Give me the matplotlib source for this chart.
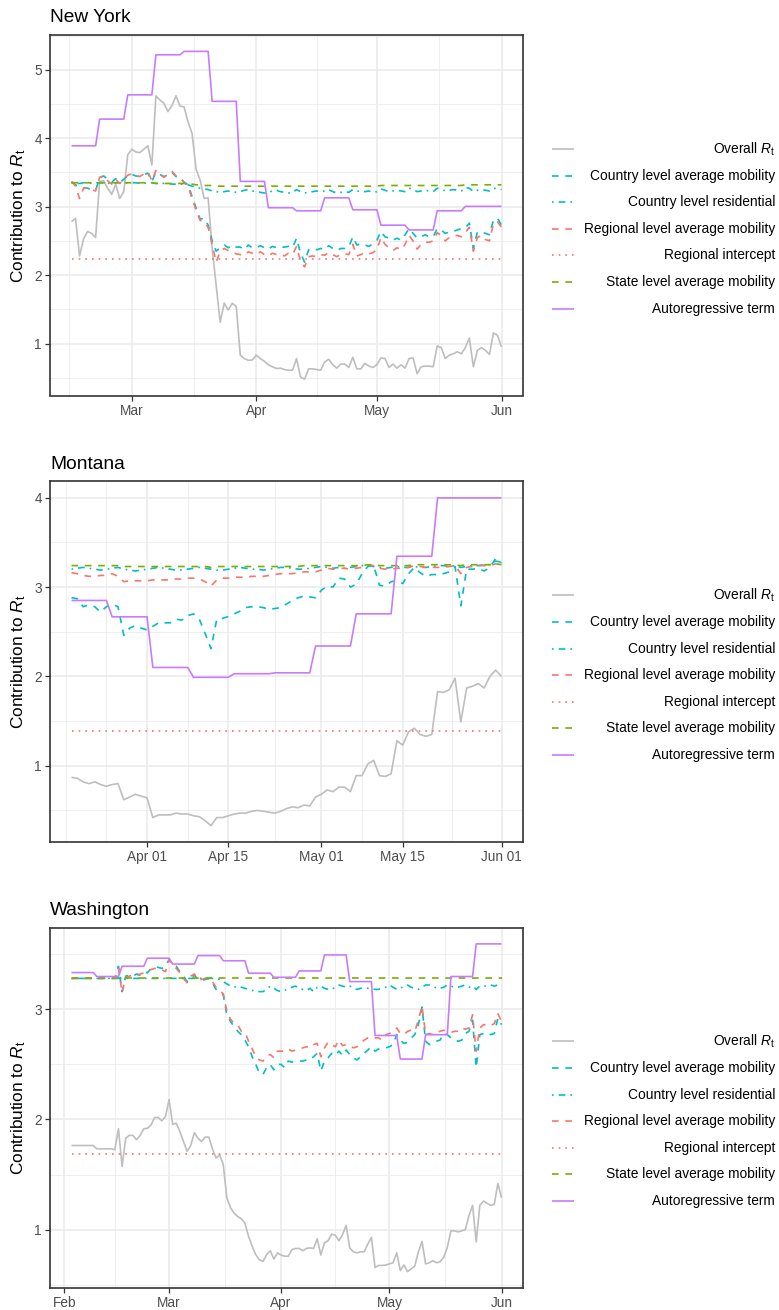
import numpy as np
import pandas as pd
import matplotlib
matplotlib.use("Agg")
import matplotlib.pyplot as plt
import matplotlib.dates as mdates
from matplotlib.lines import Line2D
from matplotlib.ticker import MultipleLocator

plt.rcParams['font.family'] = ['Liberation Sans', 'DejaVu Sans']
plt.rcParams['mathtext.fontset'] = 'custom'
plt.rcParams['mathtext.rm'] = 'Liberation Sans'
plt.rcParams['mathtext.it'] = 'Liberation Sans:italic'

# ---------------- data ----------------
SERIES_LABELS = [r'Overall $\mathit{R}_{\mathrm{t}}$', 'Country level average mobility',
                 'Country level residential', 'Regional level average mobility',
                 'Regional intercept', 'State level average mobility', 'Autoregressive term']

# New York: daily from 2020-02-15
ny_start = '2020-02-15'
ny_overall = [2.78, 2.83, 2.28, 2.53, 2.64, 2.61, 2.55,
              3.37, 3.38, 3.27, 3.18, 3.33, 3.12, 3.22,
              3.76, 3.84, 3.80, 3.79, 3.84, 3.89, 3.61,
              4.62, 4.56, 4.51, 4.39, 4.48, 4.62, 4.47,
              4.46, 4.24, 4.07, 3.55, 3.39, 3.12, 3.13,
              2.39, 1.85, 1.31, 1.59, 1.49, 1.59, 1.54,
              0.83, 0.78, 0.755, 0.76, 0.83, 0.78, 0.74,
              0.69, 0.66, 0.635, 0.64, 0.62, 0.61, 0.61,
              0.78, 0.51, 0.48, 0.63, 0.63, 0.62, 0.61,
              0.73, 0.77, 0.69, 0.64, 0.70, 0.70, 0.65,
              0.80, 0.63, 0.63, 0.71, 0.67, 0.65, 0.69,
              0.79, 0.78, 0.65, 0.70, 0.64, 0.69, 0.64,
              0.78, 0.79, 0.56, 0.66, 0.67, 0.67, 0.66,
              0.965, 0.94, 0.78, 0.83, 0.85, 0.88, 0.85,
              0.94, 1.08, 0.66, 0.90, 0.94, 0.90, 0.84,
              1.155, 1.12, 0.95]
ny_country_avg = [3.36, 3.32, 3.29, 3.28, 3.27, 3.25, 3.24,
                  3.42, 3.45, 3.40, 3.36, 3.41, 3.35, 3.40,
                  3.45, 3.47, 3.45, 3.44, 3.47, 3.49, 3.37,
                  3.50, 3.47, 3.44, 3.46, 3.50, 3.44, 3.43,
                  3.36, 3.32, 3.15, 2.98, 2.82, 2.83, 2.73,
                  2.50, 2.35, 2.40, 2.44, 2.40, 2.44, 2.41,
                  2.41, 2.37, 2.44, 2.40, 2.40, 2.43, 2.40,
                  2.38, 2.42, 2.40, 2.41, 2.41, 2.42, 2.40,
                  2.54, 2.32, 2.19, 2.37, 2.39, 2.37, 2.39,
                  2.37, 2.43, 2.39, 2.36, 2.39, 2.39, 2.41,
                  2.56, 2.44, 2.46, 2.44, 2.42, 2.46, 2.51,
                  2.64, 2.56, 2.54, 2.51, 2.54, 2.51, 2.59,
                  2.68, 2.61, 2.54, 2.56, 2.59, 2.56, 2.56,
                  2.68, 2.66, 2.61, 2.63, 2.64, 2.66, 2.68,
                  2.69, 2.76, 2.39, 2.63, 2.63, 2.61, 2.59,
                  2.81, 2.83, 2.73]
ny_residential = [3.35, 3.34, 3.34, 3.35, 3.35, 3.34, 3.35,
                  3.35, 3.35, 3.34, 3.35, 3.35, 3.35, 3.34,
                  3.35, 3.35, 3.35, 3.34, 3.34, 3.35, 3.35,
                  3.34, 3.34, 3.34, 3.34, 3.33, 3.33, 3.33,
                  3.33, 3.32, 3.30, 3.29, 3.27, 3.26, 3.25,
                  3.23, 3.22, 3.21, 3.22, 3.23, 3.22, 3.21,
                  3.22, 3.24, 3.25, 3.23, 3.22, 3.21, 3.20,
                  3.21, 3.23, 3.24, 3.22, 3.21, 3.20, 3.21,
                  3.25, 3.22, 3.20, 3.21, 3.22, 3.23, 3.22,
                  3.23, 3.25, 3.22, 3.20, 3.21, 3.22, 3.21,
                  3.25, 3.23, 3.22, 3.22, 3.23, 3.21, 3.22,
                  3.26, 3.24, 3.22, 3.23, 3.24, 3.23, 3.22,
                  3.27, 3.25, 3.22, 3.23, 3.24, 3.23, 3.22,
                  3.27, 3.26, 3.23, 3.24, 3.25, 3.24, 3.23,
                  3.28, 3.27, 3.22, 3.24, 3.25, 3.24, 3.23,
                  3.27, 3.26, 3.25]
ny_regional_avg = [3.37, 3.30, 3.12, 3.27, 3.27, 3.25, 3.23,
                   3.43, 3.45, 3.38, 3.33, 3.40, 3.34, 3.40,
                   3.46, 3.48, 3.46, 3.44, 3.48, 3.51, 3.38,
                   3.53, 3.47, 3.43, 3.47, 3.52, 3.45, 3.42,
                   3.35, 3.30, 3.12, 2.95, 2.80, 2.78, 2.70,
                   2.45, 2.19, 2.35, 2.39, 2.36, 2.34, 2.31,
                   2.30, 2.29, 2.34, 2.32, 2.30, 2.34, 2.30,
                   2.28, 2.32, 2.30, 2.30, 2.28, 2.32, 2.30,
                   2.42, 2.20, 2.12, 2.27, 2.28, 2.27, 2.30,
                   2.29, 2.33, 2.30, 2.27, 2.30, 2.31, 2.30,
                   2.45, 2.28, 2.30, 2.33, 2.31, 2.33, 2.37,
                   2.55, 2.45, 2.40, 2.36, 2.40, 2.37, 2.45,
                   2.58, 2.50, 2.38, 2.45, 2.48, 2.48, 2.50,
                   2.62, 2.58, 2.50, 2.55, 2.57, 2.58, 2.56,
                   2.62, 2.70, 2.35, 2.55, 2.58, 2.52, 2.50,
                   2.75, 2.78, 2.70]
ny_intercept = 2.23
ny_state = [3.35, 3.35, 3.35, 3.35, 3.35, 3.35, 3.35,
            3.35, 3.35, 3.35, 3.35, 3.35, 3.35, 3.35,
            3.35, 3.35, 3.35, 3.35, 3.35, 3.35, 3.35,
            3.34, 3.34, 3.34, 3.34, 3.34, 3.34, 3.34,
            3.34, 3.33, 3.33, 3.32, 3.32, 3.31, 3.31,
            3.31, 3.30, 3.30, 3.30, 3.30, 3.30, 3.30,
            3.30, 3.30, 3.30, 3.30, 3.30, 3.30, 3.30,
            3.30, 3.30, 3.30, 3.30, 3.30, 3.30, 3.30,
            3.30, 3.30, 3.30, 3.30, 3.30, 3.30, 3.30,
            3.30, 3.30, 3.30, 3.30, 3.30, 3.30, 3.30,
            3.30, 3.30, 3.30, 3.30, 3.30, 3.30, 3.30,
            3.31, 3.31, 3.31, 3.31, 3.31, 3.31, 3.31,
            3.31, 3.31, 3.31, 3.31, 3.31, 3.31, 3.31,
            3.31, 3.31, 3.31, 3.31, 3.31, 3.31, 3.31,
            3.32, 3.32, 3.32, 3.32, 3.32, 3.32, 3.32,
            3.32, 3.32, 3.32]
ny_autoreg = [3.89, 3.89, 3.89, 3.89, 3.89, 3.89, 3.89,
              4.28, 4.28, 4.28, 4.28, 4.28, 4.28, 4.28,
              4.635, 4.635, 4.635, 4.635, 4.635, 4.635, 4.635,
              5.22, 5.22, 5.22, 5.22, 5.22, 5.22, 5.22,
              5.27, 5.27, 5.27, 5.27, 5.27, 5.27, 5.27,
              4.54, 4.54, 4.54, 4.54, 4.54, 4.54, 4.54,
              3.37, 3.37, 3.37, 3.37, 3.37, 3.37, 3.37,
              2.985, 2.985, 2.985, 2.985, 2.985, 2.985, 2.985,
              2.94, 2.94, 2.94, 2.94, 2.94, 2.94, 2.94,
              3.13, 3.13, 3.13, 3.13, 3.13, 3.13, 3.13,
              2.955, 2.955, 2.955, 2.955, 2.955, 2.955, 2.955,
              2.73, 2.73, 2.73, 2.73, 2.73, 2.73, 2.73,
              2.66, 2.66, 2.66, 2.66, 2.66, 2.66, 2.66,
              2.94, 2.94, 2.94, 2.94, 2.94, 2.94, 2.94,
              3.005, 3.005, 3.005, 3.005, 3.005, 3.005, 3.005,
              3.005, 3.005, 3.005]
ny_major = ['2020-03-01', '2020-04-01', '2020-05-01', '2020-06-01']
ny_major_labels = ['Mar', 'Apr', 'May', 'Jun']
ny_minor = ['2020-02-14 12:00', '2020-03-16 12:00', '2020-04-16 00:00', '2020-05-16 12:00']

# Montana: daily from 2020-03-19
mt_start = '2020-03-19'
mt_overall = [0.87, 0.86, 0.82, 0.80, 0.82, 0.79, 0.77,
              0.79, 0.80, 0.62, 0.65, 0.68, 0.66, 0.64,
              0.42, 0.45, 0.45, 0.45, 0.47, 0.46, 0.46,
              0.44, 0.43, 0.385, 0.33, 0.42, 0.42, 0.44,
              0.46, 0.47, 0.47, 0.49, 0.50, 0.49, 0.48,
              0.47, 0.49, 0.52, 0.54, 0.53, 0.56, 0.55,
              0.65, 0.68, 0.73, 0.71, 0.76, 0.76, 0.71,
              0.89, 0.89, 1.02, 1.06, 0.89, 0.88, 0.91,
              1.28, 1.23, 1.38, 1.42, 1.35, 1.33, 1.35,
              1.83, 1.82, 1.85, 1.98, 1.49, 1.87, 1.89,
              1.92, 1.87, 2.00, 2.07, 2.00]
mt_country_avg = [2.88, 2.87, 2.78, 2.80, 2.78, 2.72, 2.78,
                  2.81, 2.78, 2.46, 2.54, 2.57, 2.54, 2.52,
                  2.56, 2.60, 2.60, 2.60, 2.64, 2.63, 2.68,
                  2.70, 2.64, 2.48, 2.31, 2.64, 2.65, 2.67,
                  2.70, 2.73, 2.77, 2.78, 2.78, 2.77, 2.75,
                  2.76, 2.77, 2.81, 2.85, 2.88, 2.90, 2.89,
                  2.88, 2.965, 3.01, 3.00, 3.10, 3.09, 3.00,
                  3.03, 3.15, 3.23, 3.24, 3.02, 3.01, 3.06,
                  3.07, 3.04, 3.15, 3.22, 3.16, 3.12, 3.14,
                  3.14, 3.15, 3.17, 3.23, 2.79, 3.20, 3.20,
                  3.21, 3.18, 3.22, 3.32, 3.27]
mt_residential = [3.20, 3.21, 3.22, 3.21, 3.20, 3.19, 3.20,
                  3.21, 3.22, 3.20, 3.19, 3.18, 3.19, 3.20,
                  3.21, 3.22, 3.21, 3.20, 3.19, 3.19, 3.20,
                  3.21, 3.22, 3.21, 3.20, 3.19, 3.19, 3.20,
                  3.21, 3.22, 3.21, 3.20, 3.20, 3.19, 3.20,
                  3.21, 3.22, 3.22, 3.21, 3.20, 3.20, 3.21,
                  3.22, 3.23, 3.22, 3.21, 3.22, 3.21, 3.22,
                  3.23, 3.24, 3.25, 3.23, 3.22, 3.21, 3.22,
                  3.23, 3.22, 3.22, 3.23, 3.22, 3.22, 3.23,
                  3.24, 3.24, 3.23, 3.24, 3.22, 3.23, 3.24,
                  3.24, 3.25, 3.25, 3.29, 3.28]
mt_regional_avg = [3.16, 3.15, 3.13, 3.12, 3.12, 3.13, 3.13,
                   3.15, 3.12, 3.06, 3.07, 3.07, 3.07, 3.07,
                   3.08, 3.08, 3.08, 3.08, 3.09, 3.09, 3.10,
                   3.10, 3.09, 3.06, 3.01, 3.08, 3.10, 3.10,
                   3.11, 3.11, 3.11, 3.12, 3.12, 3.12, 3.13,
                   3.14, 3.15, 3.15, 3.15, 3.16, 3.17, 3.17,
                   3.17, 3.19, 3.21, 3.20, 3.21, 3.21, 3.20,
                   3.21, 3.22, 3.25, 3.24, 3.21, 3.20, 3.20,
                   3.21, 3.21, 3.22, 3.24, 3.23, 3.22, 3.22,
                   3.22, 3.22, 3.23, 3.24, 3.15, 3.22, 3.23,
                   3.24, 3.24, 3.24, 3.26, 3.25]
mt_intercept = 1.39
mt_state = [3.24, 3.24, 3.24, 3.24, 3.24, 3.24, 3.24,
            3.24, 3.24, 3.23, 3.23, 3.23, 3.23, 3.23,
            3.23, 3.23, 3.23, 3.23, 3.23, 3.23, 3.23,
            3.23, 3.23, 3.23, 3.22, 3.23, 3.23, 3.23,
            3.23, 3.23, 3.23, 3.23, 3.23, 3.23, 3.23,
            3.23, 3.23, 3.23, 3.23, 3.23, 3.24, 3.24,
            3.24, 3.24, 3.24, 3.24, 3.24, 3.24, 3.24,
            3.24, 3.24, 3.25, 3.25, 3.24, 3.24, 3.24,
            3.24, 3.24, 3.24, 3.25, 3.25, 3.25, 3.25,
            3.25, 3.25, 3.25, 3.25, 3.24, 3.25, 3.25,
            3.25, 3.25, 3.25, 3.26, 3.25]
mt_autoreg = [2.85, 2.85, 2.85, 2.85, 2.85, 2.85, 2.85,
              2.667, 2.667, 2.667, 2.667, 2.667, 2.667, 2.667,
              2.10, 2.10, 2.10, 2.10, 2.10, 2.10, 2.10,
              1.99, 1.99, 1.99, 1.99, 1.99, 1.99, 1.99,
              2.03, 2.03, 2.03, 2.03, 2.03, 2.03, 2.03,
              2.04, 2.04, 2.04, 2.04, 2.04, 2.04, 2.04,
              2.34, 2.34, 2.34, 2.34, 2.34, 2.34, 2.34,
              2.70, 2.70, 2.70, 2.70, 2.70, 2.70, 2.70,
              3.345, 3.345, 3.345, 3.345, 3.345, 3.345, 3.345,
              3.998, 3.998, 3.998, 3.998, 3.998, 3.998, 3.998,
              3.998, 3.998, 3.998, 3.998, 3.998]
mt_major = ['2020-04-01', '2020-04-15', '2020-05-01', '2020-05-15', '2020-06-01']
mt_major_labels = ['Apr 01', 'Apr 15', 'May 01', 'May 15', 'Jun 01']
mt_minor = ['2020-03-18 00:00', '2020-03-25 00:00', '2020-04-08 00:00', '2020-04-23 00:00',
            '2020-05-08 00:00', '2020-05-23 12:00']

# Washington: daily from 2020-02-03
wa_start = '2020-02-03'
wa_overall = [1.764, 1.764, 1.764, 1.764, 1.764, 1.764, 1.764,
              1.734, 1.734, 1.734, 1.734, 1.734, 1.725, 1.916,
              1.574, 1.83, 1.856, 1.856, 1.817, 1.856, 1.916,
              1.92, 1.95, 2.018, 2.018, 1.988, 2.027, 2.18,
              1.957, 1.966, 1.89, 1.80, 1.71, 1.764, 1.88,
              1.83, 1.80, 1.84, 1.84, 1.734, 1.65, 1.68,
              1.59, 1.287, 1.20, 1.15, 1.12, 1.10, 1.06,
              0.94, 0.85, 0.773, 0.728, 0.713, 0.773, 0.81,
              0.734, 0.79, 0.77, 0.76, 0.76, 0.82, 0.83,
              0.83, 0.81, 0.83, 0.835, 0.83, 0.918, 0.77,
              0.88, 0.90, 0.96, 0.95, 0.90, 0.955, 1.04,
              0.835, 0.80, 0.79, 0.80, 0.80, 0.87, 0.93,
              0.658, 0.676, 0.676, 0.68, 0.69, 0.70, 0.79,
              0.63, 0.68, 0.62, 0.645, 0.67, 0.80, 0.894,
              0.69, 0.70, 0.72, 0.70, 0.71, 0.75, 0.84,
              0.99, 0.99, 0.98, 0.99, 1.00, 1.13, 1.22,
              0.89, 1.22, 1.26, 1.24, 1.22, 1.23, 1.42,
              1.29]
wa_country_avg = [3.28, 3.28, 3.28, 3.28, 3.28, 3.28, 3.28,
                  3.28, 3.28, 3.28, 3.28, 3.28, 3.28, 3.39,
                  3.16, 3.30, 3.31, 3.30, 3.32, 3.31, 3.34,
                  3.33, 3.37, 3.38, 3.38, 3.37, 3.39, 3.45,
                  3.41, 3.39, 3.34, 3.30, 3.25, 3.28, 3.31,
                  3.27, 3.26, 3.27, 3.28, 3.24, 3.18, 3.16,
                  3.13, 2.95, 2.89, 2.84, 2.80, 2.77, 2.72,
                  2.66, 2.57, 2.50, 2.42, 2.41, 2.47, 2.50,
                  2.45, 2.50, 2.50, 2.47, 2.53, 2.52, 2.53,
                  2.53, 2.53, 2.54, 2.54, 2.57, 2.60, 2.44,
                  2.53, 2.56, 2.60, 2.58, 2.62, 2.58, 2.63,
                  2.59, 2.56, 2.54, 2.57, 2.60, 2.63, 2.66,
                  2.62, 2.64, 2.64, 2.65, 2.66, 2.68, 2.77,
                  2.72, 2.69, 2.70, 2.74, 2.77, 2.86, 3.02,
                  2.71, 2.68, 2.69, 2.71, 2.72, 2.78, 2.77,
                  2.74, 2.72, 2.71, 2.72, 2.78, 2.80, 2.90,
                  2.47, 2.77, 2.78, 2.79, 2.77, 2.78, 2.92,
                  2.86]
wa_residential = [3.28, 3.28, 3.28, 3.28, 3.28, 3.28, 3.28,
                  3.28, 3.28, 3.28, 3.28, 3.28, 3.28, 3.28,
                  3.28, 3.28, 3.28, 3.28, 3.28, 3.28, 3.28,
                  3.28, 3.28, 3.28, 3.28, 3.28, 3.28, 3.28,
                  3.28, 3.28, 3.28, 3.28, 3.28, 3.28, 3.28,
                  3.28, 3.28, 3.28, 3.28, 3.28, 3.28, 3.27,
                  3.25, 3.23, 3.21, 3.20, 3.21, 3.20, 3.19,
                  3.18, 3.17, 3.17, 3.16, 3.16, 3.18, 3.21,
                  3.19, 3.17, 3.16, 3.17, 3.19, 3.20, 3.21,
                  3.19, 3.18, 3.17, 3.19, 3.16, 3.20, 3.21,
                  3.19, 3.18, 3.18, 3.20, 3.22, 3.21, 3.20,
                  3.21, 3.19, 3.18, 3.19, 3.19, 3.19, 3.19,
                  3.18, 3.18, 3.19, 3.20, 3.22, 3.20, 3.18,
                  3.19, 3.21, 3.22, 3.20, 3.19, 3.18, 3.20,
                  3.22, 3.22, 3.21, 3.19, 3.19, 3.20, 3.22,
                  3.21, 3.20, 3.20, 3.21, 3.22, 3.20, 3.21,
                  3.18, 3.21, 3.21, 3.21, 3.22, 3.21, 3.22,
                  3.22]
wa_regional_avg = [3.28, 3.28, 3.28, 3.28, 3.28, 3.28, 3.28,
                   3.28, 3.28, 3.28, 3.28, 3.28, 3.28, 3.37,
                   3.15, 3.29, 3.30, 3.31, 3.30, 3.32, 3.33,
                   3.35, 3.36, 3.37, 3.37, 3.36, 3.34, 3.45,
                   3.40, 3.37, 3.33, 3.28, 3.24, 3.30, 3.32,
                   3.27, 3.27, 3.28, 3.27, 3.25, 3.20, 3.17,
                   3.14, 2.98, 2.91, 2.87, 2.86, 2.80, 2.79,
                   2.71, 2.64, 2.57, 2.54, 2.53, 2.57, 2.59,
                   2.56, 2.62, 2.62, 2.62, 2.64, 2.62, 2.63,
                   2.64, 2.65, 2.66, 2.65, 2.68, 2.69, 2.57,
                   2.65, 2.70, 2.68, 2.66, 2.72, 2.67, 2.68,
                   2.67, 2.65, 2.66, 2.69, 2.72, 2.74, 2.75,
                   2.74, 2.74, 2.72, 2.77, 2.78, 2.80, 2.83,
                   2.78, 2.77, 2.80, 2.81, 2.80, 2.90, 3.03,
                   2.77, 2.78, 2.77, 2.79, 2.80, 2.81, 2.80,
                   2.79, 2.80, 2.80, 2.83, 2.82, 2.83, 2.95,
                   2.62, 2.83, 2.86, 2.86, 2.85, 2.87, 2.96,
                   2.89]
wa_intercept = 1.69
wa_state = [3.28, 3.28, 3.28, 3.28, 3.28, 3.28, 3.28,
            3.28, 3.28, 3.28, 3.28, 3.28, 3.28, 3.28,
            3.28, 3.28, 3.28, 3.28, 3.28, 3.28, 3.28,
            3.28, 3.28, 3.28, 3.28, 3.28, 3.28, 3.28,
            3.28, 3.28, 3.28, 3.28, 3.28, 3.28, 3.28,
            3.28, 3.28, 3.28, 3.28, 3.28, 3.28, 3.28,
            3.28, 3.28, 3.28, 3.28, 3.28, 3.28, 3.28,
            3.28, 3.28, 3.28, 3.28, 3.28, 3.28, 3.28,
            3.28, 3.28, 3.28, 3.28, 3.28, 3.28, 3.28,
            3.28, 3.28, 3.28, 3.28, 3.28, 3.28, 3.28,
            3.28, 3.28, 3.28, 3.28, 3.28, 3.28, 3.28,
            3.28, 3.28, 3.28, 3.28, 3.28, 3.28, 3.28,
            3.28, 3.28, 3.28, 3.28, 3.28, 3.28, 3.28,
            3.28, 3.28, 3.28, 3.28, 3.28, 3.28, 3.28,
            3.28, 3.28, 3.28, 3.28, 3.28, 3.28, 3.28,
            3.28, 3.28, 3.28, 3.28, 3.28, 3.28, 3.28,
            3.28, 3.28, 3.28, 3.28, 3.28, 3.28, 3.28,
            3.28]
wa_autoreg = [3.333, 3.333, 3.333, 3.333, 3.333, 3.333, 3.333,
              3.297, 3.297, 3.297, 3.297, 3.297, 3.297, 3.297,
              3.39, 3.39, 3.39, 3.39, 3.39, 3.39, 3.39,
              3.463, 3.463, 3.463, 3.463, 3.463, 3.463, 3.463,
              3.41, 3.41, 3.41, 3.41, 3.41, 3.41, 3.41,
              3.487, 3.487, 3.487, 3.487, 3.487, 3.487, 3.487,
              3.44, 3.44, 3.44, 3.44, 3.44, 3.44, 3.44,
              3.327, 3.327, 3.327, 3.327, 3.327, 3.327, 3.327,
              3.29, 3.29, 3.29, 3.29, 3.29, 3.29, 3.29,
              3.348, 3.348, 3.348, 3.348, 3.348, 3.348, 3.348,
              3.493, 3.493, 3.493, 3.493, 3.493, 3.493, 3.493,
              3.251, 3.251, 3.251, 3.251, 3.251, 3.251, 3.251,
              2.762, 2.762, 2.762, 2.762, 2.762, 2.762, 2.762,
              2.548, 2.548, 2.548, 2.548, 2.548, 2.548, 2.548,
              2.769, 2.769, 2.769, 2.769, 2.769, 2.769, 2.769,
              3.297, 3.297, 3.297, 3.297, 3.297, 3.297, 3.297,
              3.593, 3.593, 3.593, 3.593, 3.593, 3.593, 3.593,
              3.593]
wa_major = ['2020-02-01', '2020-03-01', '2020-04-01', '2020-05-01', '2020-06-01']
wa_major_labels = ['Feb', 'Mar', 'Apr', 'May', 'Jun']
wa_minor = ['2020-02-15 00:00', '2020-03-16 12:00', '2020-04-16 00:00', '2020-05-16 12:00']

# ---------------- styling ----------------
COLORS = ['#BEBEBE', '#00BFC4', '#00BFC4', '#F8766D', '#F8766D', '#7CAE00', '#C77CFF']
STYLES = ['-', (0, (4, 4)), (0, (1, 3, 4, 3)), (0, (4, 4)), (0, (1, 3)), (0, (4, 4)), '-']
LW = 1.2

W, H = 779, 1310
fig = plt.figure(figsize=(W / 100, H / 100), dpi=100)
fig.patch.set_facecolor('white')

AX_LEFT, AX_RIGHT = 50, 523
AX_H = 360.5


def to_num(strs):
    return mdates.date2num(pd.to_datetime(strs, format='mixed').to_pydatetime())


def px_rect(top):
    return [AX_LEFT / W, 1 - (top + AX_H) / H, (AX_RIGHT - AX_LEFT) / W, AX_H / H]


def draw_panel(top, title, start, series, intercept, major, major_labels, minor):
    ax = fig.add_axes(px_rect(top))
    n = len(series[0])
    dates = pd.date_range(start, periods=n, freq='D')
    x = mdates.date2num(dates.to_pydatetime())
    all_series = [series[0], series[1], series[2], series[3],
                  np.full(n, intercept), series[4], series[5]]
    for vals, c, ls in zip(all_series, COLORS, STYLES):
        ax.plot(x, vals, color=c, lw=LW, linestyle=ls, solid_capstyle='butt',
                dash_capstyle='butt', zorder=3)
    # limits with ggplot-like 5% expansion
    x0, x1 = x[0], x[-1]
    sx = x1 - x0
    ax.set_xlim(x0 - 0.05 * sx, x1 + 0.05 * sx)
    allv = np.concatenate([np.asarray(v, float) for v in all_series])
    y0, y1 = allv.min(), allv.max()
    sy = y1 - y0
    ax.set_ylim(y0 - 0.05 * sy, y1 + 0.05 * sy)

    ax.set_xticks(to_num(major))
    ax.set_xticklabels(major_labels)
    ax.set_xticks(to_num(minor), minor=True)
    ax.yaxis.set_major_locator(MultipleLocator(1))
    ax.yaxis.set_minor_locator(MultipleLocator(0.5))

    ax.grid(which='major', color='#EBEBEB', lw=1.2, zorder=0)
    ax.grid(which='minor', color='#EBEBEB', lw=0.6, zorder=0)
    ax.set_axisbelow(True)
    for sp in ax.spines.values():
        sp.set_color('#333333')
        sp.set_linewidth(1.2)
    ax.tick_params(which='major', length=3.3, width=0.9, color='#333333',
                   labelsize=9.8, labelcolor='#4D4D4D', pad=2.6)
    ax.tick_params(which='minor', length=0)

    # title and y label
    fig.text(AX_LEFT / W, 1 - (top - 12.5) / H, title, ha='left', va='baseline',
             fontsize=13.8, color='black')
    ycen = top + AX_H / 2
    fig.text(18.5 / W, 1 - ycen / H, r'Contribution to $\mathit{R}_{\mathrm{t}}$',
             rotation=90, ha='center', va='center', fontsize=12.4, color='black')

    # legend (right aligned labels)
    lcen = ycen + 13.5
    step = 26.6
    for i, (lab, c, ls) in enumerate(zip(SERIES_LABELS, COLORS, STYLES)):
        yy = 1 - (lcen + (i - 3) * step) / H
        fig.add_artist(Line2D([552 / W, 573.5 / W], [yy, yy], transform=fig.transFigure,
                              color=c, lw=LW, linestyle=ls, dash_capstyle='butt',
                              solid_capstyle='butt'))
        fig.text(775 / W, yy, lab, ha='right', va='center', fontsize=9.9, color='black')
    return ax


draw_panel(35, 'New York', ny_start,
           [ny_overall, ny_country_avg, ny_residential, ny_regional_avg, ny_state, ny_autoreg],
           ny_intercept, ny_major, ny_major_labels, ny_minor)
draw_panel(481.5, 'Montana', mt_start,
           [mt_overall, mt_country_avg, mt_residential, mt_regional_avg, mt_state, mt_autoreg],
           mt_intercept, mt_major, mt_major_labels, mt_minor)
draw_panel(927.5, 'Washington', wa_start,
           [wa_overall, wa_country_avg, wa_residential, wa_regional_avg, wa_state, wa_autoreg],
           wa_intercept, wa_major, wa_major_labels, wa_minor)

fig.savefig('out.png', dpi=100, facecolor='white')
